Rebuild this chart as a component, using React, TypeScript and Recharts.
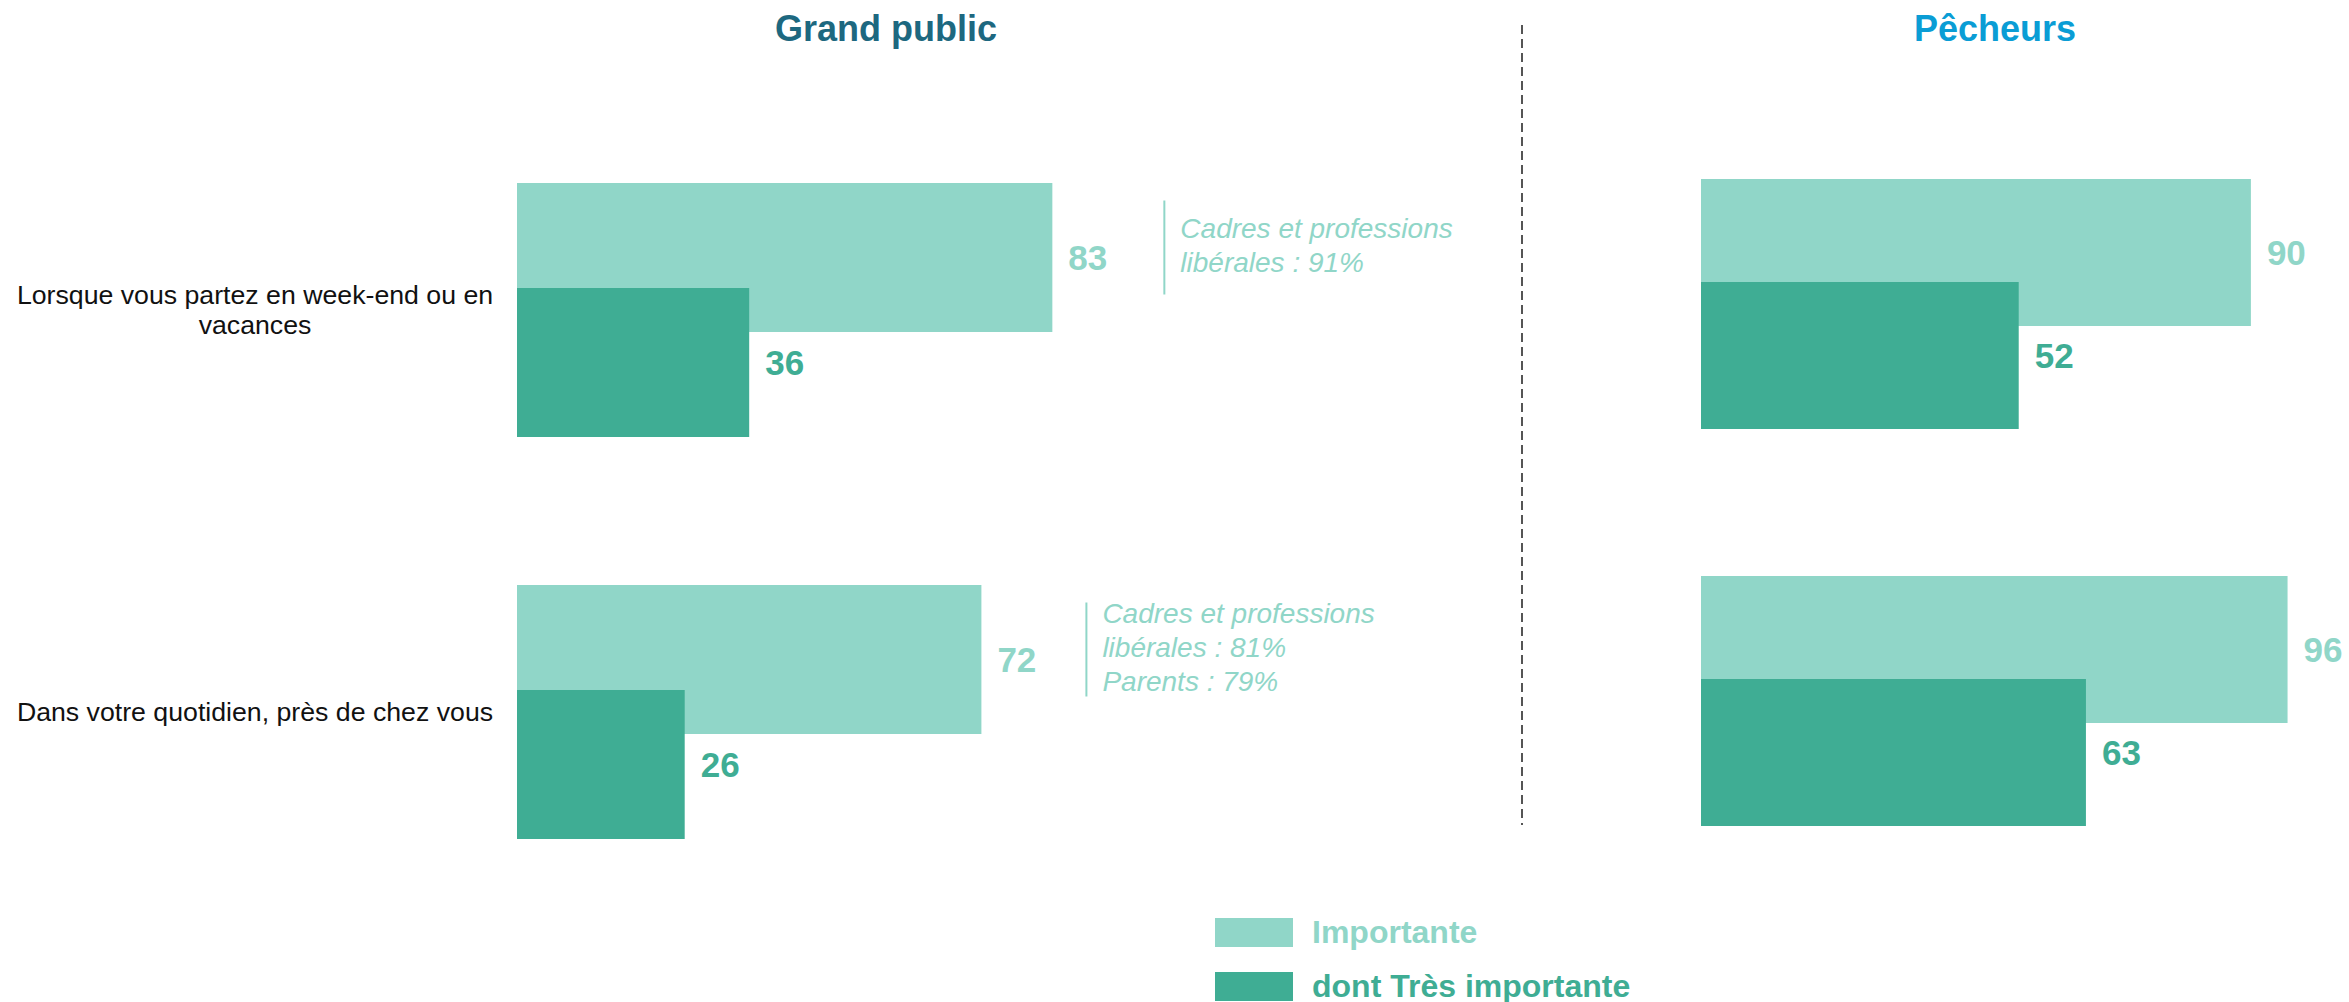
import React from 'react';
import { BarChart, Bar, XAxis, YAxis, LabelList, Legend } from 'recharts';

const CATEGORIES = [
  'Lorsque vous partez en week-end ou en vacances',
  'Dans votre quotidien, près de chez vous',
];
const GP_IMPORTANTE = [83, 72];
const GP_TRES_IMPORTANTE = [36, 26];
const PECHEURS_IMPORTANTE = [90, 96];
const PECHEURS_TRES_IMPORTANTE = [52, 63];
const SERIES_NAMES = ['Importante', 'dont Très importante'];
const PANEL_TITLES = ['Grand public', 'Pêcheurs'];
const GP_NOTES = [
  ['Cadres et professions', 'libérales : 91%'],
  ['Cadres et professions', 'libérales : 81%', 'Parents : 79%'],
];

const LIGHT = '#90d6c8';
const DARK = '#3fad94';
const FONT = '"Liberation Sans", Arial, Helvetica, sans-serif';
const TICK_FONT_SIZE = 26.7;

const gpData = CATEGORIES.map((cat, i) => ({
  cat,
  imp: GP_IMPORTANTE[i],
  tres: GP_TRES_IMPORTANTE[i],
}));
const pechData = CATEGORIES.map((cat, i) => ({
  cat,
  imp: PECHEURS_IMPORTANTE[i],
  tres: PECHEURS_TRES_IMPORTANTE[i],
}));

const NOTE_OFFSETS = [112, 105];

let measureCtx: CanvasRenderingContext2D | null = null;
function measure(text: string): number {
  if (!measureCtx) {
    const c = document.createElement('canvas');
    measureCtx = c.getContext('2d');
  }
  if (!measureCtx) return text.length * TICK_FONT_SIZE * 0.5;
  measureCtx.font = `${TICK_FONT_SIZE}px "Liberation Sans", Arial, sans-serif`;
  return measureCtx.measureText(text).width;
}

function wrapText(text: string, maxWidth: number): string[] {
  const words = text.split(' ');
  const lines: string[] = [];
  let cur = '';
  words.forEach((w) => {
    const cand = cur ? cur + ' ' + w : w;
    if (cur && measure(cand) > maxWidth) {
      lines.push(cur);
      cur = w;
    } else {
      cur = cand;
    }
  });
  if (cur) lines.push(cur);
  return lines;
}

const NoteLabel = (props: any) => {
  const vb = props.viewBox ?? props;
  const { x, y, width, height } = vb;
  const index = props.index;
  const lines = GP_NOTES[index];
  if (!lines || x == null) return null;
  const lx = x + width + NOTE_OFFSETS[index];
  const cy = y + height / 2 - 10;
  return (
    <g>
      <line x1={lx} x2={lx} y1={cy - 47} y2={cy + 47} stroke={LIGHT} strokeWidth={2} />
      {lines.map((t, k) => (
        <text
          key={k}
          x={lx + 16}
          y={cy - 3 + (k - (lines.length - 1) / 2) * 34 + 10}
          fill={LIGHT}
          fontSize={28}
          fontStyle="italic"
          fontFamily={FONT}
        >
          {t}
        </text>
      ))}
    </g>
  );
};

const CategoryTick = (props: any) => {
  const { y, payload } = props;
  const lines = wrapText(String(payload.value), 500);
  const lh = 30;
  const first = y - ((lines.length - 1) / 2) * lh + TICK_FONT_SIZE * 0.355;
  return (
    <text textAnchor="middle" fontSize={TICK_FONT_SIZE} fontFamily={FONT} fill="#111111">
      {lines.map((l, i) => (
        <tspan key={i} x={255} y={first + i * lh}>
          {l}
        </tspan>
      ))}
    </text>
  );
};

const LegendContent = (props: any) => {
  const payload = props.payload || [];
  return (
    <div style={{ fontFamily: FONT }}>
      {payload.map((p: any, i: number) => (
        <div
          key={i}
          style={{
            display: 'flex',
            alignItems: 'center',
            height: 29,
            marginBottom: 25,
          }}
        >
          <div style={{ width: 78, height: 29, background: p.color, marginRight: 19 }} />
          <span style={{ fontSize: 32, fontWeight: 'bold', color: p.color, whiteSpace: 'nowrap' }}>
            {p.value}
          </span>
        </div>
      ))}
    </div>
  );
};

export default function App() {
  return (
    <div
      style={{
        position: 'absolute',
        left: 0,
        top: 0,
        width: 2349,
        height: 1002,
        background: '#ffffff',
        fontFamily: FONT,
        overflow: 'hidden',
      }}
    >
      <div style={{ position: 'absolute', left: 0, top: 0 }}>
        <BarChart
          width={1462}
          height={1002}
          data={gpData}
          layout="vertical"
          margin={{ top: 109, right: 300, bottom: 89, left: 0 }}
          barGap={-44}
        >
          <XAxis type="number" domain={[0, 100]} hide />
          <YAxis
            type="category"
            dataKey="cat"
            width={517}
            axisLine={false}
            tickLine={false}
            tick={<CategoryTick />}
          />
          <Legend
            layout="horizontal"
            verticalAlign="middle"
            align="center"
            wrapperStyle={{ left: 1215, top: 918, width: 500, height: 84 }}
            content={<LegendContent />}
          />
          <Bar dataKey="imp" name={SERIES_NAMES[0]} fill={LIGHT} barSize={149} isAnimationActive={false}>
            <LabelList
              dataKey="imp"
              position="right"
              offset={16}
              fill={LIGHT}
              fontSize={35}
              fontWeight="bold"
              fontFamily={FONT}
            />
            <LabelList dataKey="imp" content={<NoteLabel />} />
          </Bar>
          <Bar dataKey="tres" name={SERIES_NAMES[1]} fill={DARK} barSize={149} isAnimationActive={false}>
            <LabelList
              dataKey="tres"
              position="right"
              offset={16}
              fill={DARK}
              fontSize={35}
              fontWeight="bold"
              fontFamily={FONT}
            />
          </Bar>
        </BarChart>
      </div>

      <div style={{ position: 'absolute', left: 1600, top: 0 }}>
        <BarChart
          width={749}
          height={1002}
          data={pechData}
          layout="vertical"
          margin={{ top: 105, right: 37, bottom: 103, left: 101 }}
          barGap={-44}
        >
          <XAxis type="number" domain={[0, 100]} hide />
          <YAxis type="category" dataKey="cat" hide />
          <Bar dataKey="imp" name={SERIES_NAMES[0]} fill={LIGHT} barSize={147} isAnimationActive={false}>
            <LabelList
              dataKey="imp"
              position="right"
              offset={16}
              fill={LIGHT}
              fontSize={35}
              fontWeight="bold"
              fontFamily={FONT}
            />
          </Bar>
          <Bar dataKey="tres" name={SERIES_NAMES[1]} fill={DARK} barSize={147} isAnimationActive={false}>
            <LabelList
              dataKey="tres"
              position="right"
              offset={16}
              fill={DARK}
              fontSize={35}
              fontWeight="bold"
              fontFamily={FONT}
            />
          </Bar>
        </BarChart>
      </div>

      <svg
        width={2349}
        height={1002}
        style={{ position: 'absolute', left: 0, top: 0, pointerEvents: 'none' }}
      >
        <text x={886} y={41} textAnchor="middle" fontSize={36} fontWeight="bold" fill="#1d6880" fontFamily={FONT}>
          {PANEL_TITLES[0]}
        </text>
        <text x={1995} y={41} textAnchor="middle" fontSize={36} fontWeight="bold" fill="#0a9dd5" fontFamily={FONT}>
          {PANEL_TITLES[1]}
        </text>
        <line x1={1522} x2={1522} y1={25} y2={825} stroke="#555555" strokeWidth={2} strokeDasharray="9 5" />
      </svg>
    </div>
  );
}
